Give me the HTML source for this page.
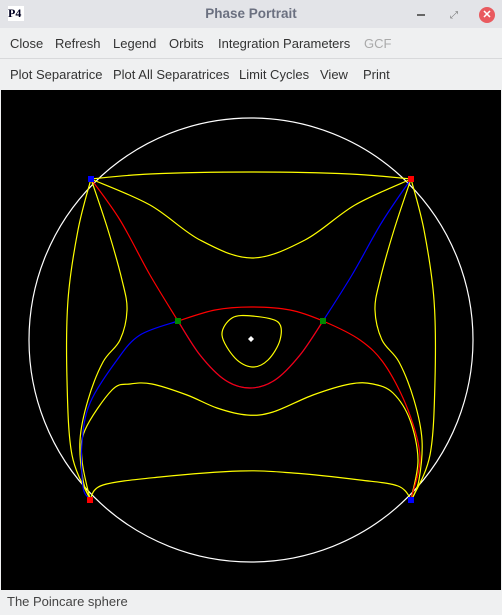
<!DOCTYPE html>
<html><head><meta charset="utf-8">
<style>
body{margin:0;width:502px;height:615px;background:#eff0f1;font-family:"Liberation Sans",sans-serif;overflow:hidden;position:relative}
.title{position:absolute;left:0;top:0;width:502px;height:28px;background:#e3e4e8}
.title .t{position:absolute;left:0;width:502px;top:6px;text-align:center;font-weight:bold;font-size:13.5px;color:#6b7080}
.bar{position:absolute;left:0;width:502px;height:29px;background:#eff0f1;font-size:13px;color:#333}
.bar span{position:absolute;top:7px;white-space:nowrap}
#plot{position:absolute;left:1px;top:90px;width:500px;height:500px;background:#000}
.status{position:absolute;left:7px;top:594px;font-size:13px;color:#444}
</style></head><body>
<div class="title">
 <div style="position:absolute;left:8px;top:6px;width:16px;height:15px;background:#fff;font:bold 12px 'Liberation Serif',serif;color:#002;line-height:15px">P4</div>
 <div class="t">Phase Portrait</div>
 <div style="position:absolute;left:417px;top:14px;width:8px;height:2px;background:#666"></div>
 <div style="position:absolute;left:450px;top:10px;font-size:10px;color:#777">⤢</div>
 <div style="position:absolute;left:479px;top:7px;width:16px;height:16px;border-radius:50%;background:#e95a5f;color:#fff;font:bold 11px sans-serif;text-align:center;line-height:16px">✕</div>
</div>
<div class="bar" style="top:29px;border-bottom:1px solid #d8d9db">
 <span style="left:10px">Close</span>
 <span style="left:55px">Refresh</span>
 <span style="left:113px">Legend</span>
 <span style="left:169px">Orbits</span>
 <span style="left:218px">Integration Parameters</span>
 <span style="left:364px;color:#aaa">GCF</span>
</div>
<div class="bar" style="top:60px">
 <span style="left:10px">Plot Separatrice</span>
 <span style="left:113px">Plot All Separatrices</span>
 <span style="left:239px">Limit Cycles</span>
 <span style="left:320px">View</span>
 <span style="left:363px">Print</span>
</div>
<svg id="plot" width="500" height="500" viewBox="1 90 500 500"></svg>
<div class="status">The Poincare sphere</div>
<script>
const circle=[251,340,222];
const topLine=[[91,179],[150,174],[251,172],[350,174],[411,179]];
const topU=[[91,179],[150,205],[200,240],[252,258],[305,240],[355,205],[411,179]];
const leftOuter=[[91,179],[78,230],[68,300],[67,380],[72,455],[90,499]];
const leftInner=[[91,179],[108,230],[122,280],[127,310],[120,340],[103,362],[88,400],[80,440],[83,480],[90,499]];
const blueLeft=[[178,321],[140,335],[117,360],[90,403],[82,443],[83,487],[90,499]];
const redTL=[[91,179],[120,220],[150,275],[178,321]];
const blueTR=[[411,179],[382,222],[352,275],[323,321]];
const redArc=[[178,321],[215,310],[251,307],[290,310],[323,321],[360,340],[385,365],[408,410],[420,457],[411,499]];
const lowerV=[[178,321],[200,355],[225,380],[250,388],[275,380],[300,355],[323,321]];
const lowerBand=[[90,499],[82,460],[85,430],[112,390],[130,384],[152,384],[187,395],[217,408],[247,415],[273,412],[313,395],[350,384],[373,384],[393,393],[410,420],[418,460],[411,499]];
const bottomArc=[[90,499],[103,485],[160,477],[240,471],[293,473],[360,480],[398,486],[411,499]];
const innerOrbit=[[222,335],[232,318],[252,316],[278,322],[280,340],[268,360],[252,367],[235,358]];
const singular=[[91,179,'#00f'],[411,179,'#f00'],[90,500,'#f00'],[411,500,'#00f'],[178,321,'#080'],[323,321,'#080']];
const NS='http://www.w3.org/2000/svg';
const svg=document.getElementById('plot');
function mirror(p){return p.map(q=>[502-q[0],q[1]]);}
function pathD(p,closed){
 const n=p.length;const g=i=>closed?p[(i+n)%n]:p[Math.max(0,Math.min(n-1,i))];
 let d='M'+p[0][0]+','+p[0][1];const m=closed?n:n-1;
 for(let i=0;i<m;i++){const p0=g(i-1),p1=g(i),p2=g(i+1),p3=g(i+2);
  d+=' C'+(p1[0]+(p2[0]-p0[0])/6)+','+(p1[1]+(p2[1]-p0[1])/6)+' '+(p2[0]-(p3[0]-p1[0])/6)+','+(p2[1]-(p3[1]-p1[1])/6)+' '+p2[0]+','+p2[1];}
 return d+(closed?'Z':'');}
function curve(p,color,name,closed){
 const el=document.createElementNS(NS,'path');
 el.setAttribute('d',pathD(p,closed));el.setAttribute('stroke',color);el.setAttribute('fill','none');el.setAttribute('stroke-width','1.2');
 
 
 svg.appendChild(el);}
const c=document.createElementNS(NS,'circle');
c.setAttribute('cx',circle[0]);c.setAttribute('cy',circle[1]);c.setAttribute('r',circle[2]);c.setAttribute('stroke','#fff');c.setAttribute('fill','none');c.setAttribute('stroke-width','1.2');


svg.appendChild(c);
curve(topLine,'#ff0','orbit-top');curve(topU,'#ff0','orbit-top-u');
curve(leftOuter,'#ff0','orbit-left-outer');curve(mirror(leftOuter),'#ff0','orbit-right-outer');
curve(leftInner,'#ff0','orbit-left-inner');curve(mirror(leftInner),'#ff0','orbit-right-inner');
curve(lowerBand,'#ff0','orbit-lower-band');curve(bottomArc,'#ff0','orbit-bottom');
curve(innerOrbit,'#ff0','orbit-center',true);
curve(blueLeft,'#00f','separatrix-blue-left');curve(blueTR,'#00f','separatrix-blue-right');
curve(lowerV,'#00f','separatrix-lower-blue');
curve(redTL,'#f00','separatrix-red-left');curve(redArc,'#f00','separatrix-red-arc');
curve(lowerV,'#f00','separatrix-lower-red');
singular.forEach(s=>{const r=document.createElementNS(NS,'rect');
 r.setAttribute('x',s[0]-3);r.setAttribute('y',s[1]-3);r.setAttribute('width',6);r.setAttribute('height',6);r.setAttribute('fill',s[2]);
 
 
 svg.appendChild(r);});
const ctr=document.createElementNS(NS,'path');
ctr.setAttribute('d','M251,336 L254,339 L251,342 L248,339Z');ctr.setAttribute('fill','#fff');


svg.appendChild(ctr);
</script>
</body></html>
